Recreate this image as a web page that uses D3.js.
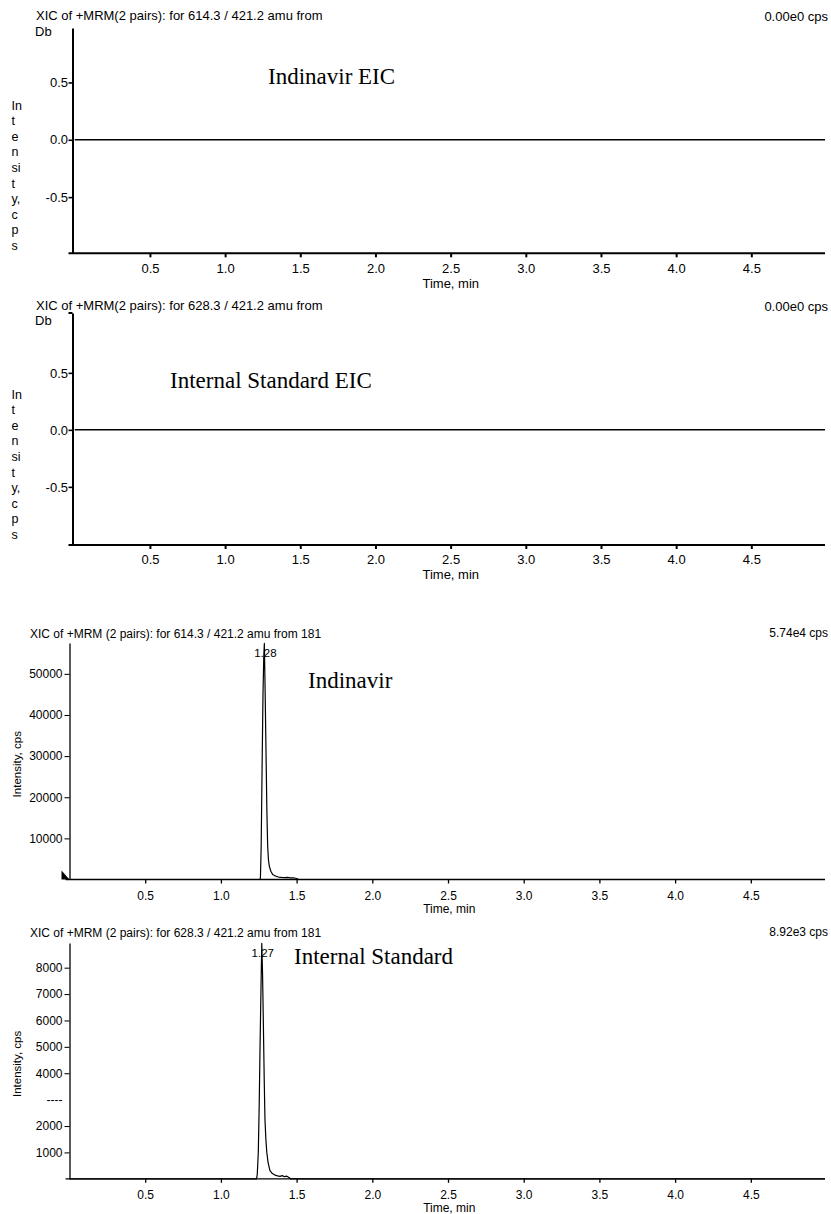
<!DOCTYPE html>
<html>
<head>
<meta charset="utf-8">
<script src="https://cdn.jsdelivr.net/npm/d3@7"></script>
<style>
  body { margin: 0; background: #fff; }
  text { fill: #000; }
</style>
</head>
<body>
<script>
const width = 831;
const height = 1214;

// ---- data ----
const xTickValues = [0.5, 1.0, 1.5, 2.0, 2.5, 3.0, 3.5, 4.0, 4.5];
const eicTickValues = [0.5, 0.0, -0.5];
const indTickValues = [10000, 20000, 30000, 40000, 50000];
const isTickValues = [1000, 2000, 3000, 4000, 5000, 6000, 7000, 8000];
const isTickLabels = ["1000", "2000", "----", "4000", "5000", "6000", "7000", "8000"];

const titles = [
    "XIC of +MRM(2 pairs): for 614.3 / 421.2 amu from",
    "XIC of +MRM(2 pairs): for 628.3 / 421.2 amu from",
    "XIC of +MRM (2 pairs): for 614.3 / 421.2 amu from 181",
    "XIC of +MRM (2 pairs): for 628.3 / 421.2 amu from 181"
];
const subTitles = ["Db", "Db", "", ""];
const maxLabels = ["0.00e0 cps", "0.00e0 cps", "5.74e4 cps", "8.92e3 cps"];
const compoundLabels = ["Indinavir EIC", "Internal Standard EIC", "Indinavir", "Internal Standard"];
const yLetters = ["In", "t", "e", "n", "si", "t", "y,", "c", "p", "s"];

// blank EIC traces (flat zero)
const eicTime = [0, 4.99];
const eicIntensity = [0, 0];

// Indinavir trace (min, cps)
const indTime = [0, 1.255, 1.261, 1.266, 1.272, 1.278, 1.283, 1.287, 1.292, 1.298, 1.304, 1.309, 1.314, 1.320,
    1.330, 1.342, 1.354, 1.365, 1.38, 1.40, 1.42, 1.44, 1.46, 1.48, 1.50, 1.515, 4.99];
const indIntensity = [0, 0, 300, 8000, 27000, 45000, 54000, 57400, 46000, 30800, 16000, 8000, 4800, 3200,
    2000, 1200, 950, 800, 600, 500, 450, 500, 380, 430, 250, 0, 0];

// Internal standard trace (min, cps)
const isTime = [0, 1.235, 1.240, 1.247, 1.253, 1.258, 1.265, 1.270, 1.275, 1.280, 1.286, 1.291, 1.297, 1.303,
    1.312, 1.324, 1.340, 1.357, 1.375, 1.39, 1.405, 1.42, 1.435, 1.45, 1.46, 4.99];
const isIntensity = [0, 0, 150, 1000, 2800, 4800, 7300, 8920, 7800, 6040, 3800, 2260, 1500, 1010,
    600, 310, 200, 140, 110, 90, 120, 80, 100, 50, 0, 0];

const apexTimes = [1.287, 1.270];
const apexLabels = ["1.28", "1.27"];

// ---- layout ----
const panels = [
    { xr: [72.5, 825], xd: [-0.015, 4.99], yr: [253.3, 28], yd: [-0.99, 0.975], ticks: eicTickValues, labels: null,
      t: eicTime, v: eicIntensity, titleX: 36, titleY: 19.5, subY: 36, maxY: 21, fs: 13, timeOff: 34.5,
      lblX: 268, lblY: 84, letterY: 109.5, axisW: 2, lineW: 1.5, tickSize: 4, tickPad: 0.5 },
    { xr: [72.5, 825], xd: [-0.015, 4.99], yr: [545, 313], yd: [-1.01, 1.025], ticks: eicTickValues, labels: null,
      t: eicTime, v: eicIntensity, titleX: 36, titleY: 309.5, subY: 324.5, maxY: 311, fs: 13, timeOff: 34,
      lblX: 170, lblY: 387.7, letterY: 398.5, axisW: 2, lineW: 1.5, tickSize: 4, tickPad: 0.5, hook: true },
    { xr: [69.5, 825], xd: [0, 4.99], yr: [879.5, 643], yd: [0, 57500], ticks: indTickValues, labels: null,
      t: indTime, v: indIntensity, titleX: 30, titleY: 637.5, maxY: 636.5, fs: 12, timeOff: 33,
      lblX: 308, lblY: 688, axisW: 1.3, lineW: 1.2, tickSize: 5, tickPad: 2, apex: 0, marker: true },
    { xr: [69.5, 825], xd: [0, 4.99], yr: [1178.8, 943], yd: [0, 8935], ticks: isTickValues, labels: isTickLabels,
      t: isTime, v: isIntensity, titleX: 30, titleY: 937, maxY: 935.5, fs: 12, timeOff: 33,
      lblX: 294, lblY: 964, axisW: 1.3, lineW: 1.2, tickSize: 5, tickPad: 2, apex: 1 }
];

const svg = d3.select("body")
    .append("svg")
    .attr("width", width)
    .attr("height", height)
    .style("font-family", "'Liberation Sans', Arial, sans-serif");

svg.append("rect").attr("width", width).attr("height", height).attr("fill", "#fff");

panels.forEach(function (p, i) {
    const x = d3.scaleLinear().domain(p.xd).range(p.xr);
    const y = d3.scaleLinear().domain(p.yd).range(p.yr);
    const g = svg.append("g");

    // titles
    g.append("text").attr("x", p.titleX).attr("y", p.titleY)
        .attr("font-size", p.fs).text(titles[i]);
    if (subTitles[i]) {
        g.append("text").attr("x", 35).attr("y", p.subY)
            .attr("font-size", p.fs).text(subTitles[i]);
    }
    g.append("text").attr("x", 828).attr("y", p.maxY)
        .attr("text-anchor", "end").attr("font-size", p.fs).text(maxLabels[i]);

    // x axis
    const xAxis = d3.axisBottom(x)
        .tickValues(xTickValues)
        .tickFormat(d3.format(".1f"))
        .tickSize(4)
        .tickPadding(p.fs === 13 ? 6 : 7.5)
        .tickSizeOuter(0);
    const gx = g.append("g")
        .attr("transform", `translate(0,${p.yr[0]})`)
        .call(xAxis);
    gx.select(".domain").remove();
    gx.selectAll("line").attr("stroke", "#000").attr("stroke-width", p.axisW);
    gx.selectAll("text").attr("font-size", p.fs).attr("font-family", "'Liberation Sans', Arial, sans-serif");
    g.append("line")
        .attr("x1", p.xr[0] - 4).attr("x2", p.xr[1])
        .attr("y1", p.yr[0]).attr("y2", p.yr[0])
        .attr("stroke", "#000").attr("stroke-width", p.axisW);
    g.append("text")
        .attr("x", (p.xr[0] + p.xr[1]) / 2 + 2)
        .attr("y", p.yr[0] + p.timeOff)
        .attr("text-anchor", "middle")
        .attr("font-size", p.fs)
        .text("Time, min");

    // y axis
    const yAxis = d3.axisLeft(y)
        .tickValues(p.ticks)
        .tickSize(p.tickSize)
        .tickPadding(p.tickPad)
        .tickSizeOuter(0)
        .tickFormat(function (d, k) {
            if (p.labels) return p.labels[k];
            return p.yd[0] < 0 ? d.toFixed(1) : String(d);
        });
    const gy = g.append("g")
        .attr("transform", `translate(${p.xr[0]},0)`)
        .call(yAxis);
    gy.select(".domain").attr("stroke", "#000").attr("stroke-width", p.axisW);
    gy.selectAll("line").attr("stroke", "#000").attr("stroke-width", p.axisW * 0.8);
    gy.selectAll("text").attr("font-size", p.fs).attr("font-family", "'Liberation Sans', Arial, sans-serif");
    if (p.labels) {
        gy.selectAll(".tick").filter(d => d === 3000).select("line").remove();
    }
    if (p.hook) {
        g.append("line")
            .attr("x1", p.xr[0] - 4).attr("x2", p.xr[0])
            .attr("y1", p.yr[1]).attr("y2", p.yr[1])
            .attr("stroke", "#000").attr("stroke-width", p.axisW);
    }

    // y axis title
    if (p.letterY) {
        g.append("g").selectAll("text")
            .data(yLetters)
            .join("text")
            .attr("x", 11.5)
            .attr("y", (d, k) => p.letterY + k * 15.6)
            .attr("font-size", 12.5)
            .text(d => d);
    } else {
        const cy = (p.yr[0] + p.yr[1]) / 2 + 3;
        g.append("text")
            .attr("transform", `translate(20.5,${cy}) rotate(-90)`)
            .attr("text-anchor", "middle")
            .attr("font-size", 11.5)
            .text("Intensity, cps");
    }

    // trace
    const pts = p.t.map((d, k) => [d, p.v[k]]);
    g.append("path")
        .datum(pts)
        .attr("fill", "none")
        .attr("stroke", "#000")
        .attr("stroke-width", p.lineW)
        .attr("stroke-linejoin", "round")
        .attr("d", d3.line().x(d => x(d[0])).y(d => y(d[1])));

    // apex label
    if (p.apex !== undefined) {
        g.append("text")
            .attr("x", x(apexTimes[p.apex]) + 1)
            .attr("y", p.yr[1] + 13.5)
            .attr("text-anchor", "middle")
            .attr("font-size", 11.5)
            .text(apexLabels[p.apex]);
    }

    // little scan marker at the origin of the indinavir panel
    if (p.marker) {
        const x0 = p.xr[0], y0 = p.yr[0];
        g.append("path")
            .attr("d", `M${x0 - 8},${y0 - 9}L${x0 - 8},${y0}L${x0},${y0}Z`)
            .attr("fill", "#000");
    }

    // compound annotation
    g.append("text")
        .attr("x", p.lblX)
        .attr("y", p.lblY)
        .attr("font-family", "'Liberation Serif', 'Times New Roman', serif")
        .attr("font-size", 23)
        .text(compoundLabels[i]);
});
</script>
</body>
</html>
